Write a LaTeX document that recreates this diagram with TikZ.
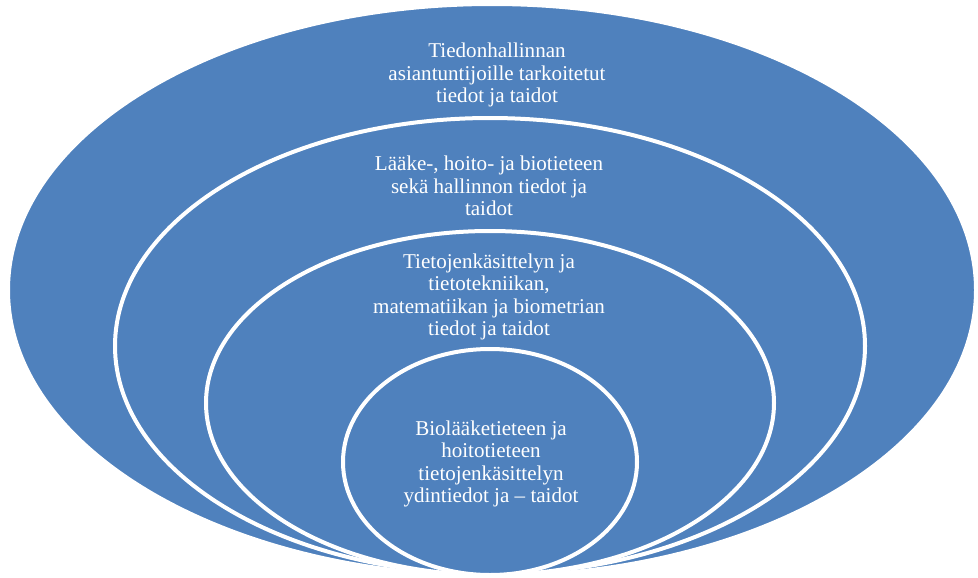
\documentclass[tikz,border=0pt]{standalone}
\usepackage{fontspec}
\setmainfont{Liberation Serif}
\usepackage{xcolor}
\definecolor{ringblue}{HTML}{4F81BD}

\begin{document}
\begin{tikzpicture}[
        x=0.75pt, y=-0.75pt,
        ring/.style={
            fill=ringblue,
            draw=white,
            line width=3pt,
          },
        ringtext/.style={
            text=white,
            align=center,
            font=\fontsize{15.8}{16.9}\selectfont,
          }
        ]
        \useasboundingbox (0, 0) rectangle (978, 578);
        % rings, outermost first
        \draw[ring] (492, 290) ellipse [x radius=484, y radius=286];
        \draw[ring] (490, 346) ellipse [x radius=375, y radius=228];
        \draw[ring] (490, 403) ellipse [x radius=284, y radius=172];
        \draw[ring] (490, 462) ellipse [x radius=147, y radius=113];
        % labels
        \node[ringtext] (t1) at (497, 75) {Tiedonhallinnan\\asiantuntijoille tarkoitetut\\tiedot ja taidot};
        \node[ringtext] (t2) at (489, 186) {Lääke-, hoito- ja biotieteen\\sekä hallinnon tiedot ja\\taidot};
        \node[ringtext] (t3) at (489, 297) {Tietojenkäsittelyn ja\\tietotekniikan,\\matematiikan ja biometrian\\tiedot ja taidot};
        \node[ringtext] (t4) at (491, 464) {Biolääketieteen ja\\hoitotieteen\\tietojenkäsittelyn\\ydintiedot ja -- taidot};
    \end{tikzpicture}
\end{document}
